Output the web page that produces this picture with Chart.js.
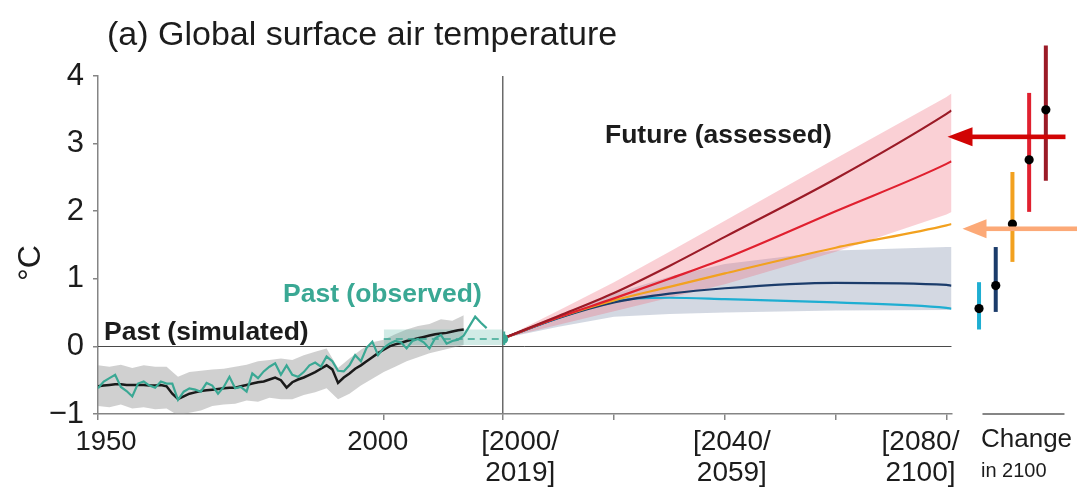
<!DOCTYPE html>
<html>
<head>
<meta charset="utf-8">
<title>Global surface air temperature</title>
<script src="https://cdn.jsdelivr.net/npm/chart.js@4.4.1/dist/chart.umd.min.js"></script>
<style>
  html, body { margin: 0; background: #fff; }
  canvas { display: block; }
</style>
</head>
<body>
<canvas id="chart" width="1077" height="502"></canvas>
<script>
// all values in °C, relative to 1995-2014

// past, simulated: ensemble mean (annual, from 1950) and range
const simFirstYear = 1950;
const simTemp = [
  -0.59, -0.58, -0.57, -0.56, -0.56, -0.57, -0.57, -0.57, -0.57, -0.58,
  -0.58, -0.57, -0.59, -0.70, -0.78, -0.74, -0.70, -0.68, -0.66, -0.65,
  -0.64, -0.63, -0.62, -0.61, -0.61, -0.59, -0.57, -0.55, -0.53, -0.52,
  -0.49, -0.46, -0.50, -0.61, -0.53, -0.49, -0.46, -0.42, -0.38, -0.33,
  -0.28, -0.34, -0.54, -0.46, -0.40, -0.33, -0.28, -0.22, -0.16, -0.10,
  -0.05, 0.00, 0.03, 0.05, 0.08, 0.10, 0.12, 0.14, 0.16, 0.18,
  0.19, 0.20, 0.22, 0.24, 0.25,
];
const rangeYears = [
  1950, 1952, 1954, 1956, 1958, 1960, 1962, 1964, 1966, 1968, 1970,
  1972, 1974, 1976, 1978, 1980, 1982, 1984, 1986, 1988, 1990, 1992,
  1994, 1996, 1998, 2000, 2002, 2004, 2006, 2008, 2010, 2012, 2014,
];
const rangeHigh = [
  -0.28, -0.30, -0.27, -0.32, -0.28, -0.30, -0.30, -0.45, -0.38, -0.36, -0.34,
  -0.33, -0.30, -0.27, -0.22, -0.20, -0.18, -0.20, -0.13, -0.08, -0.03, -0.32,
  -0.18, -0.05, 0.06, 0.10, 0.18, 0.25, 0.30, 0.33, 0.40, 0.38, 0.46,
];
const rangeLow = [
  -0.88, -0.90, -0.86, -0.92, -0.90, -0.93, -0.92, -1.02, -0.98, -0.95, -0.88,
  -0.86, -0.85, -0.80, -0.82, -0.76, -0.78, -0.78, -0.72, -0.68, -0.62, -0.78,
  -0.70, -0.58, -0.48, -0.38, -0.30, -0.22, -0.16, -0.10, -0.06, -0.02, 0.02,
];

// past, observed (annual, from 1950)
const obsFirstYear = 1950;
const obsTemp = [
  -0.62, -0.52, -0.47, -0.42, -0.60, -0.66, -0.74, -0.55, -0.52, -0.58,
  -0.61, -0.52, -0.55, -0.55, -0.79, -0.67, -0.62, -0.64, -0.67, -0.54,
  -0.58, -0.70, -0.60, -0.45, -0.62, -0.60, -0.67, -0.40, -0.47, -0.37,
  -0.30, -0.25, -0.42, -0.28, -0.42, -0.45, -0.38, -0.28, -0.24, -0.30,
  -0.15, -0.22, -0.36, -0.37, -0.28, -0.13, -0.22, -0.02, 0.07, -0.13,
  -0.02, 0.04, 0.08, 0.06, -0.03, 0.08, 0.11, 0.06, -0.03, 0.12,
  0.17, 0.04, 0.08, 0.10, 0.16, 0.30, 0.44, 0.35, 0.27,
];
// observed 2000-2019 mean and its range
const recentStart = 2000;
const recentMean = 0.11;
const recentLow = 0.02;
const recentHigh = 0.25;

// future, assessed: x is the 20-year period index
const periodLabels = [['[2000/', '2019]'], null, ['[2040/', '2059]'], null, ['[2080/', '2100]']];
const futX = [0, 0.5, 1, 1.5, 2, 3, 4, 4.045];
const scenarios = ['SSP1-1.9', 'SSP1-2.6', 'SSP2-4.5', 'SSP3-7.0', 'SSP5-8.5'];
const ssp119 = [0.12, 0.42, 0.67, 0.72, 0.70, 0.65, 0.57, 0.56];
const ssp126 = [0.12, 0.42, 0.65, 0.78, 0.86, 0.94, 0.91, 0.90];
const ssp245 = [0.12, 0.43, 0.68, 0.88, 1.08, 1.46, 1.79, 1.81];
const ssp370 = [0.12, 0.43, 0.71, 1.00, 1.30, 2.00, 2.70, 2.74];
const ssp585 = [0.12, 0.45, 0.79, 1.19, 1.62, 2.48, 3.44, 3.49];
const highRangeTop = [0.12, 0.53, 0.95, 1.40, 1.86, 2.78, 3.69, 3.74];
const highRangeBottom = [0.12, 0.32, 0.52, 0.72, 0.92, 1.40, 1.95, 1.99];
const lowRangeTop = [0.12, 0.47, 0.78, 1.03, 1.22, 1.42, 1.47, 1.47];
const lowRangeBottom = [0.12, 0.29, 0.44, 0.48, 0.50, 0.53, 0.54, 0.55];

// change in 2100 (one bar per scenario)
const change2100Low = [0.25, 0.51, 1.25, 1.99, 2.45];
const change2100Mid = [0.56, 0.90, 1.81, 2.76, 3.50];
const change2100High = [0.95, 1.47, 2.58, 3.75, 4.45];
const arrowTemps = [3.10, 1.74];

const yTicks = [-1, 0, 1, 2, 3, 4];
const pastTicks = [1950, 2000];

// ---- styles ----
const FONT = '"Liberation Sans", Arial, sans-serif';
const ink = '#1c1c1c';
const axisGrey = '#858585';
const teal = '#3aa894';
const scenColors = ['#1eaed2', '#1b3c6b', '#f2a11f', '#e0202f', '#9b1b27'];
const arrowColors = ['#d10404', '#fca977'];
const pastMax = 2020.9;
const axisHeight = 88;

const noPoint = { pointRadius: 0, pointHoverRadius: 0, fill: false };
const clear = 'rgba(0,0,0,0)';

function band(xs, lows, highs, xAxisID, color, order) {
  return [
    { ...noPoint, xAxisID, order, borderColor: clear, borderWidth: 0,
      data: xs.map((x, i) => ({ x, y: lows[i] })) },
    { ...noPoint, xAxisID, order, borderColor: clear, borderWidth: 0, fill: '-1',
      backgroundColor: color, data: xs.map((x, i) => ({ x, y: highs[i] })) },
  ];
}

const datasets = [];

datasets.push(...band(rangeYears, rangeLow, rangeHigh, 'xPast', 'rgba(150,150,150,0.45)', 30));
datasets.push(...band([recentStart, pastMax], [recentLow, recentLow], [recentHigh, recentHigh],
  'xPast', 'rgba(70,175,155,0.25)', 29));
datasets.push({ ...noPoint, xAxisID: 'xPast', order: 21, borderColor: teal, borderWidth: 1.5,
  borderDash: [7, 5], data: [{ x: recentStart, y: recentMean }, { x: pastMax, y: recentMean }] });
datasets.push({ ...noPoint, xAxisID: 'xPast', order: 22, borderColor: '#1a1a1a', borderWidth: 2.5,
  data: simTemp.map((v, i) => ({ x: simFirstYear + i, y: v })) });
datasets.push({ ...noPoint, xAxisID: 'xPast', order: 20, borderColor: teal, borderWidth: 2.2,
  data: obsTemp.map((v, i) => ({ x: obsFirstYear + i, y: v })) });

datasets.push(...band(futX, lowRangeBottom, lowRangeTop, 'xFut', 'rgba(150,162,185,0.42)', 30));
datasets.push(...band(futX, highRangeBottom, highRangeTop, 'xFut', 'rgba(240,110,125,0.32)', 29));
[ssp119, ssp126, ssp245, ssp370, ssp585].forEach((vals, i) => {
  datasets.push({ ...noPoint, label: scenarios[i], xAxisID: 'xFut', order: 15 - i,
    borderColor: scenColors[i], borderWidth: 2.2, cubicInterpolationMode: 'monotone',
    data: futX.map((x, j) => ({ x, y: vals[j] })) });
});
// observed 2000-2019 marker at the start of the future panel
datasets.push({ ...noPoint, xAxisID: 'xFut', order: 3, borderColor: teal, borderWidth: 4,
  data: [{ x: 0, y: recentLow }, { x: 0, y: recentHigh - 0.03 }] });
datasets.push({ ...noPoint, xAxisID: 'xFut', order: 2, showLine: false, pointRadius: 5,
  pointBackgroundColor: teal, pointBorderWidth: 0, data: [{ x: 0, y: recentMean }] });

scenarios.forEach((name, i) => {
  datasets.push({ ...noPoint, label: name + ' 2100', xAxisID: 'xR', order: 6, clip: false,
    borderColor: scenColors[i], borderWidth: 4, borderCapStyle: 'butt',
    data: [{ x: i + 1, y: change2100Low[i] }, { x: i + 1, y: change2100High[i] }] });
});
datasets.push({ ...noPoint, xAxisID: 'xR', order: 1, clip: false, showLine: false,
  pointRadius: 4.6, pointBackgroundColor: '#000', pointBorderWidth: 0,
  data: change2100Mid.map((v, i) => ({ x: i + 1, y: v })) });

function text(ctx, str, x, y, size, opts = {}) {
  ctx.save();
  ctx.font = `${opts.weight || 'normal'} ${size}px ${FONT}`;
  ctx.fillStyle = opts.color || ink;
  ctx.textAlign = opts.align || 'left';
  ctx.textBaseline = opts.baseline || 'alphabetic';
  ctx.translate(x, y);
  if (opts.rotate) ctx.rotate(opts.rotate);
  ctx.fillText(str, 0, 0);
  ctx.restore();
}

const pastLabelShift = [8, -6];
const futLabelShift = [17, 0, 7, 0, -26];

const annotations = {
  id: 'annotations',
  beforeDatasetsDraw(chart) {
    const { ctx, scales: { xPast, xFut, y } } = chart;
    const y0 = Math.round(y.getPixelForValue(0)) + 0.5;
    ctx.save();
    ctx.strokeStyle = '#4a4a4a';
    ctx.lineWidth = 1;
    ctx.beginPath();
    ctx.moveTo(xPast.left, y0);
    ctx.lineTo(xFut.right, y0);
    ctx.stroke();
    ctx.restore();
  },
  afterDatasetsDraw(chart) {
    const { ctx, scales: { xR, y } } = chart;
    // arrows pointing at the 2100 values
    const arrows = [
      { tip: xR.left - 4, tail: xR.left + 114, head: 25 },
      { tip: xR.left + 11, tail: chart.width, head: 24 },
    ];
    arrows.forEach((a, i) => {
      const py = y.getPixelForValue(arrowTemps[i]);
      ctx.save();
      ctx.fillStyle = arrowColors[i];
      ctx.fillRect(a.tip + a.head - 1, py - 2.3, a.tail - a.tip - a.head + 1, 4.6);
      ctx.beginPath();
      ctx.moveTo(a.tip, py);
      ctx.lineTo(a.tip + a.head, py - 9.5);
      ctx.lineTo(a.tip + a.head, py + 9.5);
      ctx.closePath();
      ctx.fill();
      ctx.restore();
    });
    // short baseline under the change-in-2100 bars
    const yb = y.getPixelForValue(-1);
    ctx.save();
    ctx.strokeStyle = axisGrey;
    ctx.lineWidth = 2;
    ctx.beginPath();
    ctx.moveTo(xR.left + 31, yb);
    ctx.lineTo(xR.left + 113, yb);
    ctx.stroke();
    ctx.restore();
  },
  afterDraw(chart) {
    const { ctx, scales: { xPast, xFut, xR } } = chart;
    text(ctx, '(a) Global surface air temperature', 107, 45, 34);
    text(ctx, '°C', 31, 263, 32, { rotate: -Math.PI / 2, align: 'center', baseline: 'middle' });
    pastTicks.forEach((v, i) => {
      text(ctx, String(v), xPast.getPixelForValue(v) + pastLabelShift[i], 450, 27.5, { align: 'center' });
    });
    periodLabels.forEach((lab, i) => {
      if (!lab) return;
      const x = xFut.getPixelForValue(i) + futLabelShift[i];
      text(ctx, lab[0], x, 450, 28, { align: 'center' });
      text(ctx, lab[1], x, 481, 28, { align: 'center' });
    });
    text(ctx, 'Change', xR.left + 29.5, 447, 26);
    text(ctx, 'in 2100', xR.left + 29.5, 477, 20);
    text(ctx, 'Past (simulated)', 104, 340, 26.5, { weight: 'bold' });
    text(ctx, 'Past (observed)', 283, 302, 26.5, { weight: 'bold', color: teal });
    text(ctx, 'Future (assessed)', 605, 143, 26.5, { weight: 'bold' });
  },
};

const fixedHeight = (s) => { s.height = axisHeight; };
const noLabel = () => '';

new Chart(document.getElementById('chart'), {
  type: 'line',
  data: { datasets },
  options: {
    responsive: false,
    animation: false,
    devicePixelRatio: 1,
    layout: { autoPadding: false, padding: { top: 76, left: 0, right: 0, bottom: 0 } },
    plugins: { legend: { display: false }, tooltip: { enabled: false } },
    scales: {
      xPast: {
        type: 'linear', position: 'bottom', stack: 'bottom', stackWeight: 405.3,
        min: 1950, max: pastMax,
        afterBuildTicks: (s) => { s.ticks = pastTicks.map((v) => ({ value: v })); },
        afterFit: fixedHeight,
        ticks: { callback: noLabel },
        grid: { drawOnChartArea: false, tickLength: 6, color: axisGrey, lineWidth: 1.5 },
        border: { color: axisGrey, width: 1.5 },
      },
      xFut: {
        type: 'linear', position: 'bottom', stack: 'bottom', stackWeight: 448.4,
        min: 0, max: 4.045,
        afterBuildTicks: (s) => { s.ticks = periodLabels.map((_, i) => ({ value: i })); },
        afterFit: fixedHeight,
        ticks: { callback: noLabel },
        grid: {
          drawOnChartArea: true, tickLength: 6, lineWidth: 1.5,
          color: (c) => (c.index === 0 ? '#6a6a6a' : clear),
          tickColor: axisGrey,
        },
        border: { color: axisGrey, width: 1.5 },
      },
      xR: {
        type: 'linear', position: 'bottom', stack: 'bottom', stackWeight: 125.3,
        min: -0.65, max: 6.85,
        afterFit: fixedHeight,
        ticks: { display: false },
        grid: { display: false },
        border: { display: false },
      },
      y: {
        type: 'linear', position: 'left', min: -1, max: 4,
        afterBuildTicks: (s) => { s.ticks = yTicks.map((v) => ({ value: v })); },
        afterFit: (s) => { s.width = 98; },
        ticks: {
          color: ink, padding: 9,
          font: { family: FONT, size: 31 },
          callback: (v) => (v < 0 ? '\u2212' + Math.abs(v) : String(v)),
        },
        grid: { drawOnChartArea: false, tickLength: 5, color: axisGrey, lineWidth: 1.5 },
        border: { color: axisGrey, width: 1.5 },
      },
    },
  },
  plugins: [annotations],
});
</script>
</body>
</html>
